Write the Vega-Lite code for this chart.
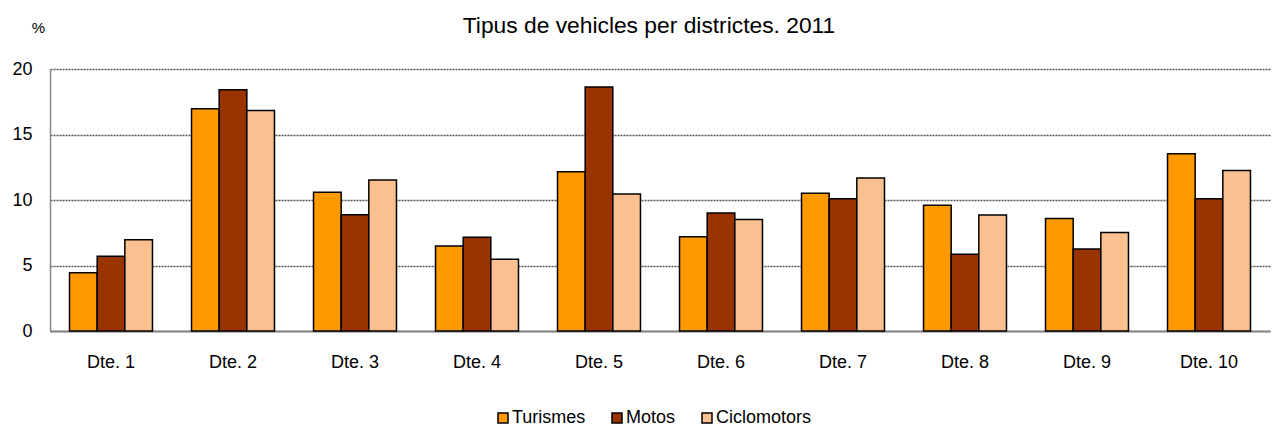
{
  "$schema": "https://vega.github.io/schema/vega-lite/v6.json",
  "width": 1220,
  "height": 262,
  "autosize": {"type": "none"},
  "padding": {"left": 50, "top": 69, "right": 5, "bottom": 97},
  "background": "white",
  "title": {
    "text": "Tipus de vehicles per districtes. 2011",
    "anchor": "middle",
    "font": "Liberation Sans",
    "fontSize": 22.8,
    "fontWeight": "normal",
    "color": "#000000",
    "offset": -17,
    "dx": -11
  },
  "data": {
    "values": [
      {"d": "Dte. 1", "t": "Turismes", "v": 4.45},
      {"d": "Dte. 1", "t": "Motos", "v": 5.7},
      {"d": "Dte. 1", "t": "Ciclomotors", "v": 6.97},
      {"d": "Dte. 2", "t": "Turismes", "v": 16.97},
      {"d": "Dte. 2", "t": "Motos", "v": 18.42},
      {"d": "Dte. 2", "t": "Ciclomotors", "v": 16.84},
      {"d": "Dte. 3", "t": "Turismes", "v": 10.59},
      {"d": "Dte. 3", "t": "Motos", "v": 8.88},
      {"d": "Dte. 3", "t": "Ciclomotors", "v": 11.53},
      {"d": "Dte. 4", "t": "Turismes", "v": 6.49},
      {"d": "Dte. 4", "t": "Motos", "v": 7.15},
      {"d": "Dte. 4", "t": "Ciclomotors", "v": 5.47},
      {"d": "Dte. 5", "t": "Turismes", "v": 12.16},
      {"d": "Dte. 5", "t": "Motos", "v": 18.63},
      {"d": "Dte. 5", "t": "Ciclomotors", "v": 10.46},
      {"d": "Dte. 6", "t": "Turismes", "v": 7.2},
      {"d": "Dte. 6", "t": "Motos", "v": 9.0},
      {"d": "Dte. 6", "t": "Ciclomotors", "v": 8.52},
      {"d": "Dte. 7", "t": "Turismes", "v": 10.51},
      {"d": "Dte. 7", "t": "Motos", "v": 10.1},
      {"d": "Dte. 7", "t": "Ciclomotors", "v": 11.68},
      {"d": "Dte. 8", "t": "Turismes", "v": 9.59},
      {"d": "Dte. 8", "t": "Motos", "v": 5.85},
      {"d": "Dte. 8", "t": "Ciclomotors", "v": 8.85},
      {"d": "Dte. 9", "t": "Turismes", "v": 8.58},
      {"d": "Dte. 9", "t": "Motos", "v": 6.26},
      {"d": "Dte. 9", "t": "Ciclomotors", "v": 7.51},
      {"d": "Dte. 10", "t": "Turismes", "v": 13.54},
      {"d": "Dte. 10", "t": "Motos", "v": 10.1},
      {"d": "Dte. 10", "t": "Ciclomotors", "v": 12.26}
    ]
  },
  "mark": {"type": "bar", "stroke": "#000000", "strokeWidth": 1.5},
  "encoding": {
    "x": {
      "field": "d",
      "type": "nominal",
      "sort": null,
      "scale": {"paddingInner": 0.32, "paddingOuter": 0.16},
      "axis": {
        "title": null,
        "labelAngle": 0,
        "labelFont": "Liberation Sans",
        "labelFontSize": 18,
        "labelColor": "#000000",
        "labelPadding": 22,
        "ticks": false,
        "domainColor": "#888888",
        "domainWidth": 2,
        "grid": false
      }
    },
    "xOffset": {
      "field": "t",
      "type": "nominal",
      "sort": ["Turismes", "Motos", "Ciclomotors"],
      "scale": {"paddingInner": 0, "paddingOuter": 0}
    },
    "y": {
      "field": "v",
      "type": "quantitative",
      "scale": {"domain": [0, 20], "nice": false},
      "axis": {
        "title": "%",
        "titleAngle": 0,
        "titleFont": "Liberation Sans",
        "titleFontSize": 15,
        "titleFontWeight": "normal",
        "titleColor": "#000000",
        "titleX": -12,
        "titleY": -41.5,
        "titleAlign": "center",
        "titleBaseline": "middle",
        "values": [0, 5, 10, 15, 20],
        "labelFont": "Liberation Sans",
        "labelFontSize": 18,
        "labelColor": "#000000",
        "labelPadding": 18,
        "ticks": false,
        "domainColor": "#888888",
        "domainWidth": 1.5,
        "grid": true,
        "gridColor": "#555555",
        "gridDash": [2, 1],
        "gridWidth": 1.5
      }
    },
    "color": {
      "field": "t",
      "type": "nominal",
      "sort": ["Turismes", "Motos", "Ciclomotors"],
      "scale": {
        "domain": ["Turismes", "Motos", "Ciclomotors"],
        "range": ["#FF9900", "#993300", "#FAC090"]
      },
      "legend": {
        "title": null,
        "orient": "none",
        "direction": "horizontal",
        "legendX": 444,
        "legendY": 340,
        "symbolType": "square",
        "symbolSize": 100,
        "symbolStrokeColor": "#000000",
        "symbolStrokeWidth": 1.5,
        "symbolOpacity": 1,
        "labelFont": "Liberation Sans",
        "labelFontSize": 18,
        "labelColor": "#000000",
        "labelOffset": 0,
        "columnPadding": 22
      }
    }
  },
  "config": {"view": {"stroke": null}}
}
